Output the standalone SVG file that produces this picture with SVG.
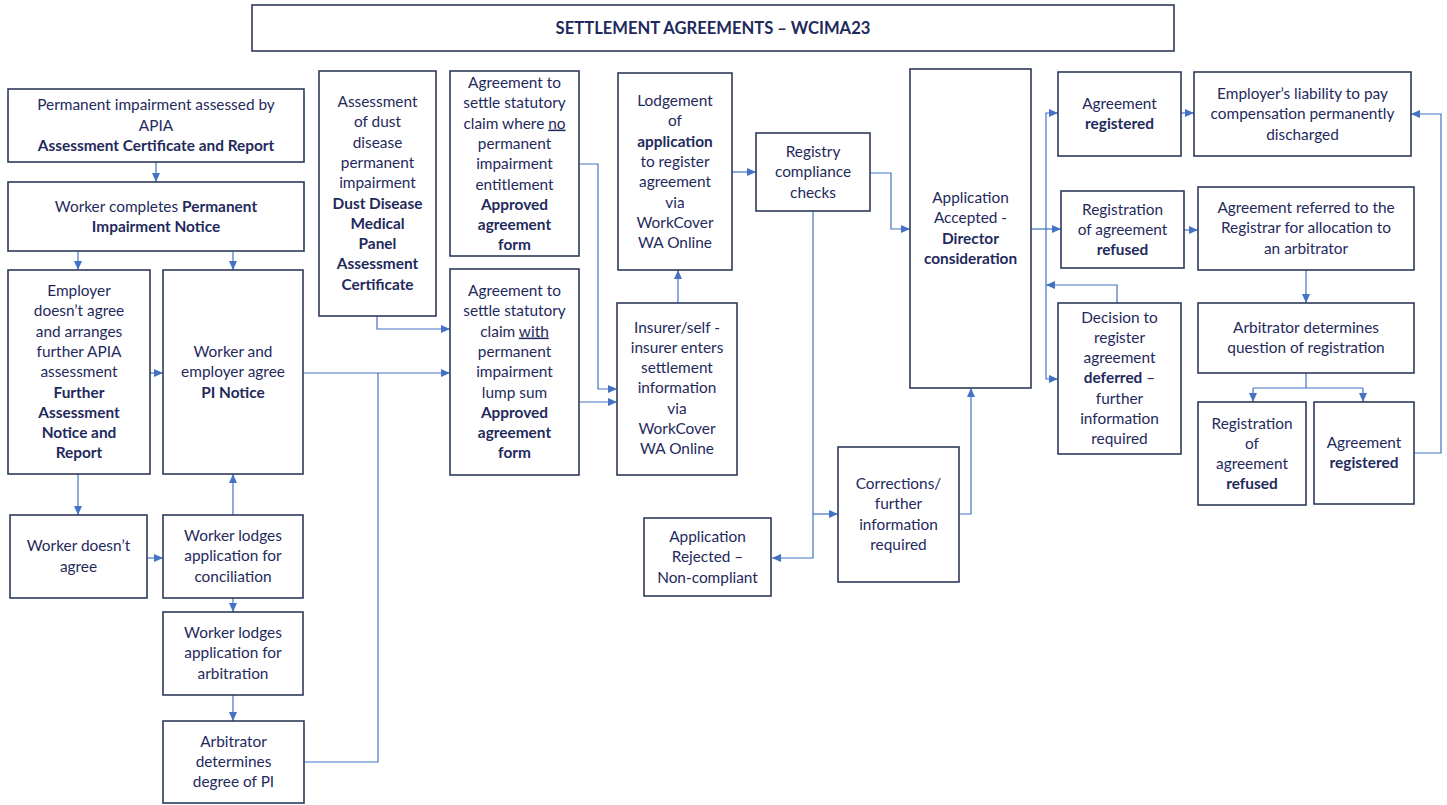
<svg xmlns="http://www.w3.org/2000/svg" width="1447" height="805" viewBox="0 0 1447 805">
<style>
.box{fill:#fff;stroke:#2E3A5C;stroke-width:1.6}
.t{font-family:Lato,"Liberation Sans",sans-serif;font-size:15.4px;fill:#1F2A5C;text-anchor:middle}
.b{font-weight:bold}
.c{fill:none;stroke:#4472C4;stroke-width:1.2}
.u{text-decoration:underline}
</style>
<defs>
<marker id="a" viewBox="0 0 10 10" refX="10" refY="5" markerUnits="userSpaceOnUse" markerWidth="9" markerHeight="8" orient="auto" preserveAspectRatio="none"><path d="M0,0 L10,5 L0,10 z" fill="#4472C4"/></marker>
</defs>
<rect width="1447" height="805" fill="#fff"/>
<g id="title"><rect class="box" x="252" y="5" width="922" height="46"/><text class="t b" x="713" y="34" style="font-size:16.6px">SETTLEMENT AGREEMENTS – WCIMA23</text></g>

<g id="connectors">
<path class="c" d="M156,162 V182" marker-end="url(#a)"/>
<path class="c" d="M78,251 V270" marker-end="url(#a)"/>
<path class="c" d="M233,252 V270" marker-end="url(#a)"/>
<path class="c" d="M150,373 H163" marker-end="url(#a)"/>
<path class="c" d="M78,474 V515" marker-end="url(#a)"/>
<path class="c" d="M147,558 H163" marker-end="url(#a)"/>
<path class="c" d="M233,515 V474" marker-end="url(#a)"/>
<path class="c" d="M233,598 V612" marker-end="url(#a)"/>
<path class="c" d="M233,695 V721" marker-end="url(#a)"/>
<path class="c" d="M303,373 H450" marker-end="url(#a)"/>
<path class="c" d="M304,762 H378 V373"/>
<path class="c" d="M377,316 V329 H450" marker-end="url(#a)"/>
<path class="c" d="M579,164 H598 V389 H617" marker-end="url(#a)"/>
<path class="c" d="M579,402 H617" marker-end="url(#a)"/>
<path class="c" d="M678,303 V270" marker-end="url(#a)"/>
<path class="c" d="M732,172 H756" marker-end="url(#a)"/>
<path class="c" d="M870,173 H891 V229 H910" marker-end="url(#a)"/>
<path class="c" d="M813,211 V558 H772" marker-end="url(#a)"/>
<path class="c" d="M813,514 H838" marker-end="url(#a)"/>
<path class="c" d="M959,514 H971 V388" marker-end="url(#a)"/>
<path class="c" d="M1031,229 H1061" marker-end="url(#a)"/>
<path class="c" d="M1046,229 V113 H1058" marker-end="url(#a)"/>
<path class="c" d="M1046,229 V379 H1058" marker-end="url(#a)"/>
<path class="c" d="M1117,303 V285 H1046" marker-end="url(#a)"/>
<path class="c" d="M1181,113 H1194" marker-end="url(#a)"/>
<path class="c" d="M1184,230 H1198" marker-end="url(#a)"/>
<path class="c" d="M1306,270 V303" marker-end="url(#a)"/>
<path class="c" d="M1306,373 V388 M1253,388 H1363"/>
<path class="c" d="M1253,388 V402" marker-end="url(#a)"/>
<path class="c" d="M1363,388 V402" marker-end="url(#a)"/>
<path class="c" d="M1414,453 H1441 V114 H1411" marker-end="url(#a)"/>
</g>

<g id="n1"><rect class="box" x="8" y="89" width="296" height="73"/><text class="t"><tspan x="156" y="110">Permanent impairment assessed by</tspan><tspan x="156" y="131">APIA</tspan><tspan x="156" y="151" class="b">Assessment Certificate and Report</tspan></text></g>
<g id="n2"><rect class="box" x="8" y="182" width="296" height="69"/><text class="t"><tspan x="156" y="212">Worker completes  <tspan class="b">Permanent</tspan></tspan><tspan x="156" y="232" class="b">Impairment Notice</tspan></text></g>
<g id="n3"><rect class="box" x="8" y="270" width="142" height="204"/><text class="t"><tspan x="79" y="296">Employer</tspan><tspan x="79" y="316.3">doesn’t agree</tspan><tspan x="79" y="336.6">and arranges</tspan><tspan x="79" y="356.9">further APIA</tspan><tspan x="79" y="377.2">assessment</tspan><tspan x="79" y="397.5" class="b">Further</tspan><tspan x="79" y="417.8" class="b">Assessment</tspan><tspan x="79" y="438.1" class="b">Notice and</tspan><tspan x="79" y="458.4" class="b">Report</tspan></text></g>
<g id="n4"><rect class="box" x="163" y="270" width="140" height="204"/><text class="t"><tspan x="233" y="357">Worker and</tspan><tspan x="233" y="377.3">employer agree</tspan><tspan x="233" y="397.6" class="b">PI Notice</tspan></text></g>
<g id="n5"><rect class="box" x="10" y="515" width="137" height="83"/><text class="t"><tspan x="78.5" y="551.3">Worker doesn’t</tspan><tspan x="78.5" y="571.6">agree</tspan></text></g>
<g id="n6"><rect class="box" x="163" y="515" width="140" height="83"/><text class="t"><tspan x="233" y="541">Worker lodges</tspan><tspan x="233" y="561.3">application for</tspan><tspan x="233" y="581.6">conciliation</tspan></text></g>
<g id="n7"><rect class="box" x="163" y="612" width="140" height="83"/><text class="t"><tspan x="233" y="638">Worker lodges</tspan><tspan x="233" y="658.3">application for</tspan><tspan x="233" y="678.6">arbitration</tspan></text></g>
<g id="n8"><rect class="box" x="163" y="721" width="141" height="82"/><text class="t"><tspan x="233.5" y="746.7">Arbitrator</tspan><tspan x="233.5" y="767">determines</tspan><tspan x="233.5" y="787.3">degree of PI</tspan></text></g>
<g id="n9"><rect class="box" x="319" y="71" width="117" height="245"/><text class="t"><tspan x="377.5" y="107">Assessment</tspan><tspan x="377.5" y="127.3">of dust</tspan><tspan x="377.5" y="147.6">disease</tspan><tspan x="377.5" y="167.9">permanent</tspan><tspan x="377.5" y="188.2">impairment</tspan><tspan x="377.5" y="208.5" class="b">Dust Disease</tspan><tspan x="377.5" y="228.8" class="b">Medical</tspan><tspan x="377.5" y="249.1" class="b">Panel</tspan><tspan x="377.5" y="269.4" class="b">Assessment</tspan><tspan x="377.5" y="289.7" class="b">Certificate</tspan></text></g>
<g id="n10"><rect class="box" x="450" y="71" width="129" height="185"/><text class="t"><tspan x="514.5" y="88">Agreement to</tspan><tspan x="514.5" y="108.3">settle statutory</tspan><tspan x="514.5" y="128.6">claim where <tspan class="u">no</tspan></tspan><tspan x="514.5" y="148.9">permanent</tspan><tspan x="514.5" y="169.2">impairment</tspan><tspan x="514.5" y="189.5">entitlement</tspan><tspan x="514.5" y="209.8" class="b">Approved</tspan><tspan x="514.5" y="230.1" class="b">agreement</tspan><tspan x="514.5" y="250.4" class="b">form</tspan></text></g>
<g id="n11"><rect class="box" x="450" y="269" width="129" height="206"/><text class="t"><tspan x="514.5" y="296">Agreement to</tspan><tspan x="514.5" y="316.3">settle statutory</tspan><tspan x="514.5" y="336.6">claim <tspan class="u">with</tspan></tspan><tspan x="514.5" y="356.9">permanent</tspan><tspan x="514.5" y="377.2">impairment</tspan><tspan x="514.5" y="397.5">lump sum</tspan><tspan x="514.5" y="417.8" class="b">Approved</tspan><tspan x="514.5" y="438.1" class="b">agreement</tspan><tspan x="514.5" y="458.4" class="b">form</tspan></text></g>
<g id="n12"><rect class="box" x="618" y="73" width="114" height="197"/><text class="t"><tspan x="675" y="106">Lodgement</tspan><tspan x="675" y="126.3">of</tspan><tspan x="675" y="146.6" class="b">application</tspan><tspan x="675" y="166.9">to register</tspan><tspan x="675" y="187.2">agreement</tspan><tspan x="675" y="207.5">via</tspan><tspan x="675" y="227.8">WorkCover</tspan><tspan x="675" y="248.1">WA Online</tspan></text></g>
<g id="n13"><rect class="box" x="617" y="303" width="120" height="172"/><text class="t"><tspan x="677" y="332.5">Insurer/self -</tspan><tspan x="677" y="352.8">insurer enters</tspan><tspan x="677" y="373.1">settlement</tspan><tspan x="677" y="393.4">information</tspan><tspan x="677" y="413.7">via</tspan><tspan x="677" y="434">WorkCover</tspan><tspan x="677" y="454.3">WA Online</tspan></text></g>
<g id="n14"><rect class="box" x="756" y="133" width="114" height="78"/><text class="t"><tspan x="813" y="157">Registry</tspan><tspan x="813" y="177.3">compliance</tspan><tspan x="813" y="197.6">checks</tspan></text></g>
<g id="n15"><rect class="box" x="644" y="518" width="127" height="78"/><text class="t"><tspan x="707.5" y="542">Application</tspan><tspan x="707.5" y="562.3">Rejected –</tspan><tspan x="707.5" y="582.6">Non-compliant</tspan></text></g>
<g id="n16"><rect class="box" x="838" y="447" width="121" height="135"/><text class="t"><tspan x="898.5" y="489">Corrections/</tspan><tspan x="898.5" y="509.3">further</tspan><tspan x="898.5" y="529.6">information</tspan><tspan x="898.5" y="549.9">required</tspan></text></g>
<g id="n17"><rect class="box" x="910" y="69" width="121" height="319"/><text class="t"><tspan x="970.5" y="203">Application</tspan><tspan x="970.5" y="223.3">Accepted -</tspan><tspan x="970.5" y="243.6" class="b">Director</tspan><tspan x="970.5" y="263.9" class="b">consideration</tspan></text></g>
<g id="n18"><rect class="box" x="1058" y="72" width="123" height="84"/><text class="t"><tspan x="1119.5" y="108.5">Agreement</tspan><tspan x="1119.5" y="128.8" class="b">registered</tspan></text></g>
<g id="n19"><rect class="box" x="1061" y="191" width="123" height="77"/><text class="t"><tspan x="1122.5" y="214.5">Registration</tspan><tspan x="1122.5" y="234.8">of agreement</tspan><tspan x="1122.5" y="255.1" class="b">refused</tspan></text></g>
<g id="n20"><rect class="box" x="1058" y="303" width="123" height="151"/><text class="t"><tspan x="1119.5" y="322.5">Decision to</tspan><tspan x="1119.5" y="342.8">register</tspan><tspan x="1119.5" y="363.1">agreement</tspan><tspan x="1119.5" y="383.4"><tspan class="b">deferred</tspan> –</tspan><tspan x="1119.5" y="403.7">further</tspan><tspan x="1119.5" y="424">information</tspan><tspan x="1119.5" y="444.3">required</tspan></text></g>
<g id="n21"><rect class="box" x="1194" y="72" width="217" height="84"/><text class="t"><tspan x="1302.5" y="99">Employer’s liability to pay</tspan><tspan x="1302.5" y="119.3">compensation permanently</tspan><tspan x="1302.5" y="139.6">discharged</tspan></text></g>
<g id="n22"><rect class="box" x="1198" y="187" width="216" height="83"/><text class="t"><tspan x="1306" y="213">Agreement referred to the</tspan><tspan x="1306" y="233.3">Registrar for allocation to</tspan><tspan x="1306" y="253.6">an arbitrator</tspan></text></g>
<g id="n23"><rect class="box" x="1198" y="303" width="216" height="70"/><text class="t"><tspan x="1306" y="333">Arbitrator determines</tspan><tspan x="1306" y="353.3">question of registration</tspan></text></g>
<g id="n24"><rect class="box" x="1198" y="402" width="108" height="103"/><text class="t"><tspan x="1252" y="428.5">Registration</tspan><tspan x="1252" y="448.8">of</tspan><tspan x="1252" y="469.1">agreement</tspan><tspan x="1252" y="489.4" class="b">refused</tspan></text></g>
<g id="n25"><rect class="box" x="1314" y="402" width="100" height="102"/><text class="t"><tspan x="1364" y="448">Agreement</tspan><tspan x="1364" y="468.3" class="b">registered</tspan></text></g>
</svg>
